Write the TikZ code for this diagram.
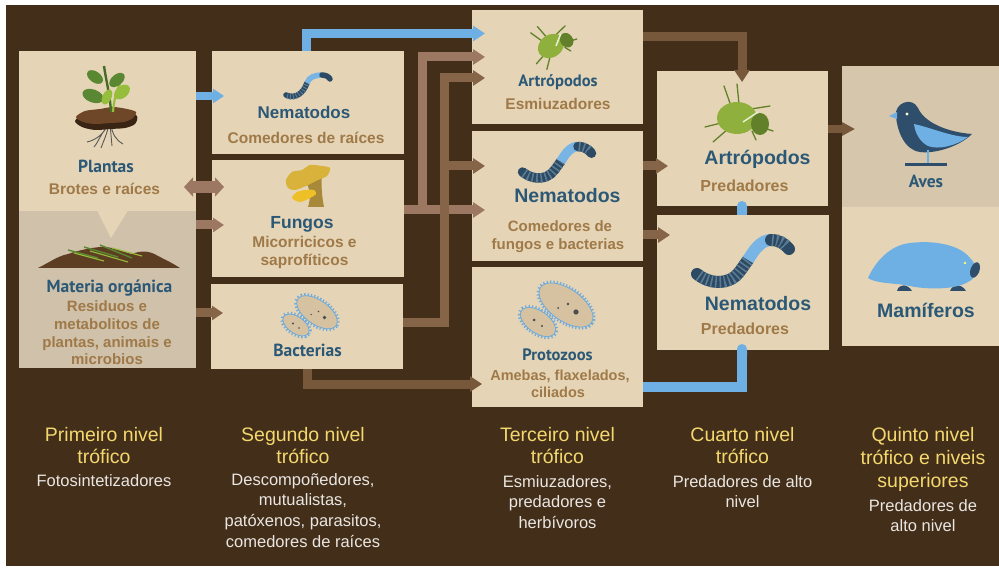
\documentclass[tikz,border=0pt]{standalone}
\usepackage{fontspec}
\setmainfont{Liberation Sans}
\newfontfamily\condf{PT Sans}
\usetikzlibrary{arrows.meta,calc}
\newcommand\fsz[1]{\fontsize{#1}{#1}\selectfont}

\definecolor{bgbrown}{RGB}{67,46,26}
\definecolor{boxA}{RGB}{229,213,182}
\definecolor{boxG}{RGB}{207,193,170}
\definecolor{boxAv}{RGB}{213,198,172}
\definecolor{ttlblue}{RGB}{43,88,118}
\definecolor{subbrown}{RGB}{160,121,72}
\definecolor{lvlyellow}{RGB}{244,216,110}
\definecolor{lvlwhite}{RGB}{234,230,226}
\definecolor{arrblue}{RGB}{110,176,228}
\definecolor{arrbrA}{RGB}{156,120,98}
\definecolor{arrbrB}{RGB}{134,100,72}
\definecolor{arrbrC}{RGB}{120,88,58}
\definecolor{wormdark}{RGB}{44,74,100}
\definecolor{wormstripe}{RGB}{92,122,146}
\definecolor{wormblue}{RGB}{120,180,228}
\definecolor{leafdark}{RGB}{90,135,50}
\definecolor{leaflight}{RGB}{150,190,60}
\definecolor{soil}{RGB}{110,70,40}
\definecolor{soildark}{RGB}{58,36,20}
\definecolor{heap}{RGB}{94,62,34}
\definecolor{beetle}{RGB}{143,176,60}
\definecolor{beetlehead}{RGB}{98,128,42}
\definecolor{birddark}{RGB}{46,78,108}
\definecolor{cellfill}{RGB}{214,194,160}
\definecolor{cellblue}{RGB}{110,170,220}
\definecolor{fungY}{RGB}{216,178,58}
\definecolor{fungB}{RGB}{238,192,40}
\definecolor{fungO}{RGB}{168,137,58}

\tikzset{
  box/.style={fill=boxA, draw=none, inner sep=0pt, outer sep=0pt, anchor=north west},
  ttl/.style={anchor=base, inner sep=0pt, text=ttlblue, font=\bfseries},
  sub/.style={anchor=base, inner sep=0pt, text=subbrown, font=\bfseries},
  lvl/.style={anchor=base, inner sep=0pt, text=lvlyellow, font=\fsz{19.5}},
  lvlw/.style={anchor=base, inner sep=0pt, text=lvlwhite, font=\fsz{16.5}},
  conn/.style={line width=9pt, line join=miter},
  tipA/.style={-{Triangle[length=12pt,width=15pt]}},
  tipR/.style={-{Round Cap[]}},
  wormw/.store in=\wormw, wormw=12,
  pics/worm/.style={code={
    \draw[wormdark, line width=\wormw pt, line cap=round]
      (-46,12) .. controls (-36,20) and (-24,22) .. (-14,18)
      .. controls (-5,15) and (0,4) .. (5,-2);
    \draw[wormstripe, line width=\wormw pt, dash pattern=on 1.6pt off 2.8pt]
      (-44,13.5) .. controls (-36,20) and (-24,22) .. (-14,18)
      .. controls (-5,15) and (0,4) .. (5,-2);
    \draw[wormblue, line width=\wormw pt]
      (5,-2) .. controls (10,-10) and (17,-22) .. (28,-22);
    \draw[wormdark, line width=\wormw pt, line cap=round]
      (28,-22) .. controls (36,-22) and (42,-18) .. (46,-13);
    \draw[wormstripe, line width=\wormw pt, dash pattern=on 1.6pt off 2.8pt]
      (29,-22) .. controls (36,-22) and (41,-19) .. (44,-15);
  }},
  pics/beetle/.style={code={
    \draw[beetlehead, line width=1.3pt, line cap=round]
      (-12,4) -- (-32,9)  (-9,11) -- (-24,24)  (-6,-12) -- (-13,-32)
      (2,-14) -- (0,-34)  (14,-9) -- (33,-12)  (15,13) -- (19,22)
      (27,10) -- (36,13);
    \fill[beetle] (0,0) ellipse [x radius=20, y radius=16];
    \fill[beetlehead] (23,6) ellipse [x radius=9, y radius=11];
    \draw[white!80!beetle, line width=1.5pt] (6,4) -- (21,-6);
  }},
  pics/cells/.style={code={
    \foreach \cx/\cy/\rx/\ry in {12/-5/31/16, -16/12/20/11} {
      \begin{scope}[shift={(\cx,\cy)}, rotate=-35]
        \draw[cellblue, line width=5pt, dash pattern=on 1.2pt off 2pt]
          (0,0) ellipse [x radius=\rx, y radius=\ry];
        \fill[cellfill, draw=cellblue, line width=0.8pt]
          (0,0) ellipse [x radius=\rx, y radius=\ry];
      \end{scope}
    }
    \fill[gray!60!black] (22,2) circle (2.6) (14,-6) circle (1.3) (4,-2) circle (1)
      (-20,10) circle (1.5) (-12,16) circle (1.2);
  }}
}

\begin{document}
\begin{tikzpicture}[x=1pt,y=-1pt]
\useasboundingbox (0,0) rectangle (999,569);
\fill[white] (0,0) rectangle (999,569);
\fill[bgbrown] (6,5) rectangle (999,566);

% ---- boxes ----
\node[box, minimum width=177pt, minimum height=160pt] (plantas) at (19,51) {};
\node[box, fill=boxG, minimum width=177pt, minimum height=157pt] (materia) at (19,211) {};
\fill[boxA] (97,210.5) -- (128,210.5) -- (111,238) -- cycle;

\node[box, minimum width=192pt, minimum height=103pt] (nemR) at (212,51) {};
\node[box, minimum width=192pt, minimum height=117pt] (fung) at (212,160) {};
\node[box, minimum width=192pt, minimum height=85pt] (bact) at (211,284) {};

\node[box, minimum width=171pt, minimum height=114pt] (artE) at (472,10) {};
\node[box, minimum width=171pt, minimum height=130pt] (nemM) at (472,131) {};
\node[box, minimum width=171pt, minimum height=140pt] (prot) at (472,267) {};

\node[box, minimum width=171pt, minimum height=135pt] (artP) at (657,71) {};
\node[box, minimum width=172pt, minimum height=135pt] (nemP) at (657,215) {};

\node[box, fill=boxAv, minimum width=157pt, minimum height=141pt] (aves) at (842,66) {};
\node[box, minimum width=157pt, minimum height=139pt] (mami) at (842,207) {};

% ---- connectors ----
\draw[conn, arrblue, line width=8pt, -{Triangle[length=11pt,width=14pt]}]
  ($(plantas.north east)+(0,45)$) -- ($(nemR.north west)+(12,45)$);
\draw[conn, arrblue, tipA]
  ($(nemR.north west)+(94.5,0)$) |- ($(artE.north west)+(13,23.5)$);
\draw[arrbrA, line width=12pt, {Triangle[length=9pt,width=19pt]}-{Triangle[length=9pt,width=19pt]}]
  ($(plantas.north east)+(-12,136)$) -- ($(fung.north west)+(12,27)$);
\draw[conn, arrbrA, line width=9pt, -{Triangle[length=11pt,width=14pt]}]
  ($(materia.north east)+(0,14)$) -- ($(fung.north west)+(12,65)$);
\draw[conn, arrbrB, line width=9pt, -{Triangle[length=11pt,width=14pt]}]
  ($(materia.north east)+(0,102)$) -- ($(bact.north west)+(12,29)$);

\draw[conn, arrbrA, tipA]
  ($(fung.north east)+(0,50)$) -- ($(nemM.north west)+(13,79)$);
\draw[conn, arrbrA, tipA]
  ($(fung.north east)+(18,50)$) |- ($(artE.north west)+(13,47)$);
\draw[conn, arrbrB, tipA]
  ($(bact.north east)+(0,39)$) -| ($(artE.north west)+(-28,68)$) -- ($(artE.north west)+(13,68)$);
\draw[conn, arrbrB, tipA]
  ($(nemM.north west)+(-28,35)$) -- ($(nemM.north west)+(13,35)$);
\draw[conn, arrbrC, tipA]
  ($(bact.south west)+(96,0)$) |- ($(prot.north west)+(10,117)$);

\draw[conn, arrbrC, tipA]
  ($(artE.north east)+(0,26.5)$) -| ($(artP.north west)+(85,11)$);
\draw[conn, arrbrB, tipA]
  ($(nemM.north east)+(0,35)$) -- ($(artP.north west)+(11,95)$);
\draw[conn, arrbrB, tipA]
  ($(nemM.north east)+(0,104)$) -- ($(nemP.north west)+(13,20)$);
\draw[conn, arrblue, line width=10pt, tipR]
  ($(prot.north east)+(0,120)$) -| ($(nemP.south west)+(85,-6)$);
\draw[conn, arrblue, line width=10pt, tipR]
  ($(nemP.north west)+(85,0)$) -- ($(artP.south west)+(85,-5)$);
\draw[conn, arrbrC, line width=8pt, -{Triangle[length=13pt,width=13pt]}]
  ($(artP.north east)+(0,58)$) -- ($(aves.north west)+(13,63)$);

% ---- plant ----
\draw[gray!70!black, line width=0.9pt]
  (108,124) .. controls (104,134) and (96,140) .. (87,142)
  (109,124) .. controls (107,134) and (104,140) .. (101,148)
  (111,124) .. controls (112,134) and (116,140) .. (123,144)
  (110,124) -- (112,146)
  (106,128) .. controls (100,136) and (97,144) .. (94,147);
\fill[soildark] plot[smooth cycle] coordinates {(75,121) (84,114) (100,112) (113,110) (127,112) (137,116) (135,124) (125,128) (110,129) (95,130) (82,127)};
\fill[soil] plot[smooth cycle] coordinates {(76,117) (85,111) (100,109) (113,107) (127,109) (136,112) (133,118) (124,122) (110,123) (95,124) (83,122)};
\draw[leafdark!80!black, line width=2.4pt] (111,112) .. controls (110,95) and (106,80) .. (104,66);
\draw[leaflight, line width=2.2pt] (113,112) .. controls (114,100) and (116,92) .. (120,84);
\fill[leafdark, rotate around={-35:(95,77)}] (95,77) ellipse [x radius=9, y radius=5.5];
\fill[leafdark, rotate around={40:(117,80)}] (117,80) ellipse [x radius=9, y radius=5.5];
\fill[leafdark, rotate around={-20:(93,96)}] (93,96) ellipse [x radius=11, y radius=6.5];
\fill[leaflight, rotate around={40:(122,92)}] (122,92) ellipse [x radius=9, y radius=6];
\fill[leaflight, rotate around={65:(107,97)}] (107,97) ellipse [x radius=8, y radius=4.5];

% ---- organic matter heap ----
\fill[heap] (38,268) .. controls (50,262) and (58,256) .. (68,254)
  .. controls (80,250) and (90,248) .. (100,247)
  .. controls (112,246) and (122,252) .. (132,254)
  .. controls (142,250) and (150,251) .. (158,256)
  .. controls (166,260) and (174,264) .. (180,268) -- cycle;
\draw[leafdark, line width=1.4pt] (68,250) -- (98,258) (84,247) -- (118,257) (100,245) -- (132,258);
\draw[leaflight, line width=1.1pt] (90,251) -- (128,262) (74,253) -- (104,261) (112,248) -- (142,256);

% ---- small root worm ----
\draw[wormdark, line width=5.5pt, line cap=round]
  (286,95) .. controls (295,99) and (303,94) .. (307,83);
\draw[wormstripe, line width=5.5pt, dash pattern=on 1pt off 2pt]
  (287,96) .. controls (295,99) and (303,94) .. (307,83);
\draw[wormblue, line width=5.5pt] (307,83) .. controls (309,77) and (315,75) .. (322,75);
\draw[wormdark, line width=5.5pt, line cap=round] (322,75) .. controls (326,75) and (329,77) .. (330,79);

% ---- fungus ----
\fill[fungO] (306,182) -- (322,175) .. controls (321,186) and (322,197) .. (324,207)
  -- (308,207) .. controls (311,198) and (310,189) .. (306,182) -- cycle;
\fill[fungY] plot[smooth cycle] coordinates {(286,180) (292,172) (302,170) (310,165) (322,166) (330,168) (327,176) (318,180) (306,186) (295,190) (288,188)};
\fill[fungB] plot[smooth cycle] coordinates {(292,198) (297,192) (305,190) (314,190) (316,194) (310,198) (300,202)};

% ---- cells ----
\pic[scale=0.75] at (308,316) {cells};
\pic at (554,310) {cells};

% ---- beetles ----
\pic[scale=0.7, rotate=35] at (551,46) {beetle};
\pic at (737,118) {beetle};

% ---- worms ----
\pic[scale=0.75, wormw=9.5] at (557,163) {worm};
\pic at (743,262) {worm};

% ---- bird ----
\fill[birddark] (896,116) .. controls (894,103) and (912,96) .. (918,108)
  .. controls (924,122) and (946,132) .. (972,134)
  .. controls (960,146) and (936,154) .. (920,152)
  .. controls (904,150) and (897,130) .. (896,116) -- cycle;
\fill[arrblue] (914,124) .. controls (932,128) and (952,137) .. (968,137)
  .. controls (956,146) and (938,150) .. (928,146)
  .. controls (920,142) and (915,133) .. (914,124) -- cycle;
\fill[arrblue] (897,112) -- (889,116) -- (897,119) -- cycle;
\fill[white!85!yellow] (907,114) circle (1.7);
\draw[arrblue, line width=2pt] (928,150) -- (928,164);
\draw[birddark, line width=2.6pt] (905,164.5) -- (947,164.5);

% ---- mammal ----
\fill[birddark] (897,291) .. controls (899,283) and (908,284) .. (912,291) -- cycle;
\fill[birddark] (950,291) .. controls (953,283) and (962,284) .. (966,291) -- cycle;
\fill[arrblue] (868,278) .. controls (875,262) and (890,245) .. (910,243)
  .. controls (935,240) and (960,245) .. (970,258)
  .. controls (978,265) and (978,278) .. (968,282)
  .. controls (955,290) and (925,290) .. (905,285)
  .. controls (890,283) and (875,283) .. (868,278) -- cycle;
\fill[birddark, rotate around={-20:(975,270)}] (975,270) ellipse [x radius=4.5, y radius=8];
\fill[yellow!55!white] (965,263) circle (1.4);

% ---- box labels ----
\node[ttl] (tPl) at (106,173) {\condf\fsz{17.5}Plantas};
\node[sub] (tPl2) at (104.5,195) {\fsz{15.5}Brotes e raíces};
\node[ttl] (tMo) at (109.5,293) {\condf\fsz{17.5}Materia orgánica};
\node[sub] (tMo1) at (107,312) {\fsz{15}Residuos e};
\node[sub] (tMo2) at (107,330) {\fsz{15}metabolitos de};
\node[sub] (tMo3) at (107,347.5) {\fsz{15}plantas, animais e};
\node[sub] (tMo4) at (107,365) {\fsz{15}microbios};

\node[ttl] (tN1) at (304,119) {\fsz{17}Nematodos};
\node[sub] (tN1b) at (306,144) {\fsz{15.5}Comedores de raíces};
\node[ttl] (tF) at (302,229) {\fsz{17.5}Fungos};
\node[sub] (tF1) at (304.5,248) {\fsz{15.5}Micorricicos e};
\node[sub] (tF2) at (304.5,266) {\fsz{15.5}saprofíticos};
\node[ttl] (tB) at (307.5,356) {\condf\fsz{17.5}Bacterias};

\node[ttl] (tA1) at (558,87) {\condf\fsz{16.5}Artrópodos};
\node[sub] (tA1b) at (558,110) {\fsz{15.5}Esmiuzadores};
\node[ttl] (tN2) at (567.5,203) {\fsz{19.5}Nematodos};
\node[sub] (tN2b) at (560,231.5) {\fsz{15}Comedores de};
\node[sub] (tN2c) at (558,249.5) {\fsz{15}fungos e bacterias};
\node[ttl] (tP) at (557.5,360.5) {\condf\fsz{16.5}Protozoos};
\node[sub] (tP1) at (560,381) {\fsz{14.5}Amebas, flaxelados,};
\node[sub] (tP2) at (558,397.5) {\fsz{14.5}ciliados};

\node[ttl] (tA2) at (757.5,165) {\fsz{19.5}Artrópodos};
\node[sub] (tA2b) at (744.5,191.5) {\fsz{16}Predadores};
\node[ttl] (tN3) at (758,310.5) {\fsz{19.5}Nematodos};
\node[sub] (tN3b) at (745,334.5) {\fsz{16}Predadores};

\node[ttl] (tAv) at (926,188) {\condf\fsz{17.5}Aves};
\node[ttl] (tMa) at (926,318) {\fsz{19.5}Mamíferos};

% ---- trophic level captions ----
\node[lvl] (L1a) at (104,441.5) {Primeiro nivel};
\node[lvl] (L1b) at (104,463.5) {trófico};
\node[lvlw] (L1c) at (104,486) {Fotosintetizadores};

\node[lvl] (L2a) at (303,441.5) {Segundo nivel};
\node[lvl] (L2b) at (303,463.5) {trófico};
\node[lvlw] (L2c) at (303,485) {Descompoñedores,};
\node[lvlw] (L2d) at (303,505.5) {mutualistas,};
\node[lvlw] (L2e) at (303,526.5) {patóxenos, parasitos,};
\node[lvlw] (L2f) at (303,547) {comedores de raíces};

\node[lvl] (L3a) at (557.5,441.5) {Terceiro nivel};
\node[lvl] (L3b) at (557.5,463.5) {trófico};
\node[lvlw] (L3c) at (557.5,487) {Esmiuzadores,};
\node[lvlw] (L3d) at (557.5,507.5) {predadores e};
\node[lvlw] (L3e) at (557.5,528) {herbívoros};

\node[lvl] (L4a) at (742.5,441.5) {Cuarto nivel};
\node[lvl] (L4b) at (742.5,463.5) {trófico};
\node[lvlw] (L4c) at (742.5,487) {Predadores de alto};
\node[lvlw] (L4d) at (742.5,507) {nivel};

\node[lvl] (L5a) at (923,441.5) {Quinto nivel};
\node[lvl] (L5b) at (923,464.5) {trófico e niveis};
\node[lvl] (L5c) at (923,487.5) {superiores};
\node[lvlw] (L5d) at (923,511.5) {Predadores de};
\node[lvlw] (L5e) at (923,531.5) {alto nivel};
\end{tikzpicture}
\end{document}
